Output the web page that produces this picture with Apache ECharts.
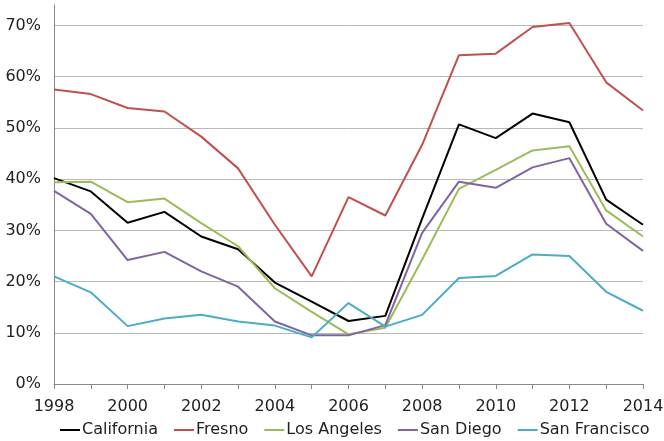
<!DOCTYPE html>
<html>
<head>
<meta charset="utf-8">
<script src="https://cdn.jsdelivr.net/npm/echarts@6/dist/echarts.min.js"></script>
<style>
  html, body { margin: 0; padding: 0; background: #fff; }
  #chart { width: 664px; height: 441px; }
</style>
</head>
<body>
<div id="chart"></div>
<script>
var years = ['1998', '1999', '2000', '2001', '2002', '2003', '2004', '2005', '2006',
             '2007', '2008', '2009', '2010', '2011', '2012', '2013', '2014'];

var california   = [40.2, 37.6, 31.5, 33.6, 28.8, 26.3, 19.8, 16.1, 12.3, 13.3, 32.3, 50.7, 48.0, 52.8, 51.1, 36.0, 31.1];
var fresno       = [57.5, 56.6, 53.9, 53.2, 48.3, 42.1, 31.1, 21.0, 36.5, 32.9, 46.7, 64.2, 64.5, 69.7, 70.5, 58.9, 53.4];
var losAngeles   = [39.4, 39.5, 35.5, 36.2, 31.4, 26.9, 18.7, 14.1, 9.7, 11.0, 24.3, 38.1, 41.8, 45.6, 46.4, 33.9, 28.8];
var sanDiego     = [37.7, 33.2, 24.2, 25.8, 22.0, 19.0, 12.2, 9.5, 9.5, 11.5, 29.5, 39.5, 38.3, 42.3, 44.1, 31.3, 26.0];
var sanFrancisco = [21.0, 17.9, 11.3, 12.8, 13.5, 12.2, 11.4, 9.1, 15.8, 11.2, 13.5, 20.7, 21.1, 25.3, 25.0, 18.0, 14.3];

var names  = ['California', 'Fresno', 'Los Angeles', 'San Diego', 'San Francisco'];
var values = [california, fresno, losAngeles, sanDiego, sanFrancisco];
var colors = ['#000000', '#c0504d', '#9bbb59', '#8064a2', '#4bacc6'];

var font = 'DejaVu Sans';
var chart = echarts.init(document.getElementById('chart'));

// hide the split line at the axis top (74), keep the 0..70 ones
var gridColors = [];
for (var i = 0; i < 8; i++) gridColors.push('#b8b8b8');
gridColors.push('rgba(0,0,0,0)');

var option = {
    animation: false,
    color: colors,
    grid: { left: 54, right: 21, top: 5, bottom: 57, outerBoundsMode: 'none' },
    legend: {
        bottom: -2,
        left: 55,
        icon: 'path://M0,0L20,0L20,2L0,2Z',
        itemWidth: 20,
        itemHeight: 2,
        itemGap: 16,
        textStyle: { fontFamily: font, fontSize: 16, color: '#222', padding: [0, 0, 0, -3] },
        data: names
    },
    xAxis: {
        type: 'category',
        data: years,
        boundaryGap: false,
        axisLine: { lineStyle: { color: '#888', width: 1 } },
        axisTick: { interval: 0, length: 5, lineStyle: { color: '#888' } },
        axisLabel: { interval: 1, margin: 15, fontFamily: font, fontSize: 16, color: '#222' }
    },
    yAxis: {
        type: 'value',
        min: 0,
        max: 74,
        interval: 10,
        axisLine: { show: true, lineStyle: { color: '#888', width: 1 } },
        axisTick: { show: false },
        splitLine: { lineStyle: { color: gridColors, width: 1 } },
        axisLabel: {
            margin: 13,
            fontFamily: font,
            fontSize: 16,
            color: '#222',
            showMaxLabel: false,
            formatter: function (v) { return v % 10 === 0 ? v + '%' : ''; }
        }
    },
    series: names.map(function (name, i) {
        return {
            name: name,
            type: 'line',
            data: values[i],
            symbol: 'none',
            lineStyle: { width: 2, color: colors[i] },
            itemStyle: { color: colors[i] }
        };
    })
};

chart.setOption(option);
</script>
</body>
</html>
